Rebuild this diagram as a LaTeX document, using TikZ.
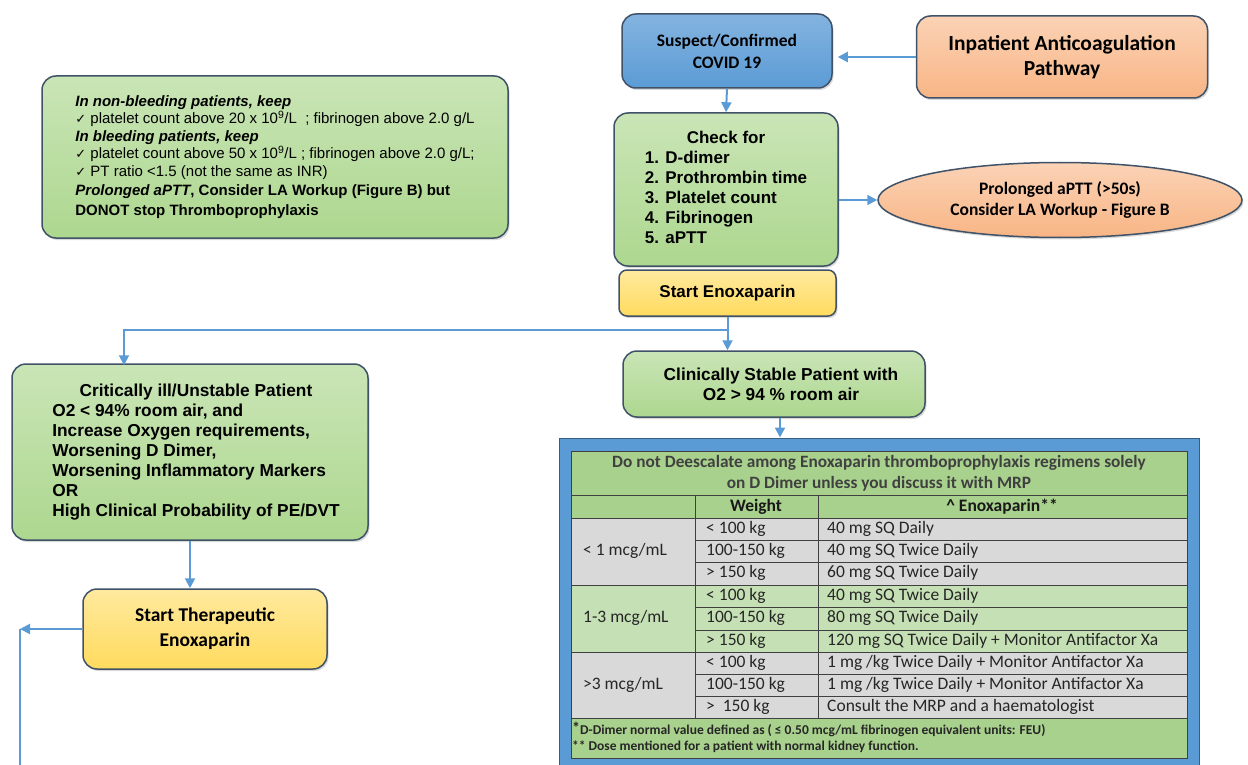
\documentclass[tikz,border=0pt]{standalone}
\usepackage{fontspec}
\setmainfont{Liberation Sans}
\newfontfamily\calibri{Carlito}
\newfontfamily\dejavu{DejaVu Sans}
\usetikzlibrary{arrows.meta,shapes.geometric,shadows}

\definecolor{edgec}{HTML}{3F5268}
\definecolor{grn}{HTML}{ADD78F}
\definecolor{ylw}{HTML}{FFDB5E}
\definecolor{blu}{HTML}{5B9BD5}
\definecolor{org}{HTML}{F8B585}
\definecolor{arr}{HTML}{5B9BD5}
\definecolor{hdr}{HTML}{A9D18E}
\definecolor{lgr}{HTML}{C5E0B4}
\definecolor{gry}{HTML}{D9D9D9}
\definecolor{gridc}{HTML}{404040}

\newcommand\chk{{\dejavu\fontsize{13}{13}\selectfont ✓}}

\tikzset{
   box/.style={draw=edgec, line width=1.5pt, rounded corners=14pt, inner sep=0pt, align=center,
      drop shadow={shadow xshift=1.5pt, shadow yshift=-2pt, opacity=0.3}},
   greenbox/.style={box, top color=grn!65!white, bottom color=grn},
   yellowbox/.style={box, top color=ylw!60!white, bottom color=ylw},
   bluebox/.style={box, top color=blu!75!white, bottom color=blu},
   orangebox/.style={box, top color=org!60!white, bottom color=org},
   flow/.style={draw=arr, line width=2pt, -{Triangle[length=10pt,width=10pt]}},
   plain/.style={draw=arr, line width=2pt},
   gridline/.style={draw=gridc, line width=1pt},
   cell/.style={anchor=west, inner sep=0pt, text=black!85, font=\calibri\fontsize{17.5}{20}\selectfont},
   headcell/.style={inner sep=0pt, align=center, text=black!90, font=\calibri\bfseries\fontsize{17.5}{21}\selectfont},
   foot/.style={anchor=west, inner sep=0pt, text=black!85, font=\calibri\bfseries\fontsize{13.5}{15}\selectfont}
}

\begin{document}
\begin{tikzpicture}[x=1pt, y=-1pt]
   \useasboundingbox (0,0) rectangle (1248,765);

   % flow boxes
   \node[greenbox, minimum width=466, minimum height=162, align=left,
      font=\fontsize{15}{17.5}\selectfont] (note) at (275,157) {%
      \textbf{\textit{In non-bleeding patients, keep}}\\
      \chk\ platelet count above 20 x 10\textsuperscript{9}/L\ \ ; fibrinogen above 2.0 g/L\\
      \textbf{\textit{In bleeding patients, keep}}\\
      \chk\ platelet count above 50 x 10\textsuperscript{9}/L ; fibrinogen above 2.0 g/L;\\
      \chk\ PT ratio <1.5 (not the same as INR)\\[2pt]
      \textbf{\textit{Prolonged aPTT}, Consider LA Workup (Figure B) but}\\[2pt]
      \textbf{DONOT stop Thromboprophylaxis}};
   \node[bluebox, minimum width=210, minimum height=74,
      font=\calibri\bfseries\fontsize{17.5}{22}\selectfont] (susp) at (727,51)
      {Suspect/Confirmed\\COVID 19};
   \node[orangebox, minimum width=291, minimum height=82,
      font=\calibri\bfseries\fontsize{21.5}{25}\selectfont] (path) at (1062,57)
      {Inpatient Anticoagulation\\Pathway};
   \node[greenbox, minimum width=224, minimum height=153,
      font=\bfseries\fontsize{17}{20}\selectfont] (check) at (726,189.5) {%
      \begin{tabular}{@{}l@{}}
         \multicolumn{1}{@{}c@{}}{Check for}\\
         1. D-dimer\\
         2. Prothrombin time\\
         3. Platelet count\\
         4. Fibrinogen\\
         5. aPTT
      \end{tabular}};
   \node[ellipse, draw=edgec, line width=1.5pt, top color=org!60!white, bottom color=org,
      drop shadow={shadow xshift=1.5pt, shadow yshift=-2pt, opacity=0.3},
      minimum width=364, minimum height=75, inner sep=0pt, align=center,
      font=\calibri\bfseries\fontsize{17.5}{21}\selectfont] (la) at (1060,200)
      {Prolonged aPTT (>50s)\\Consider LA Workup - Figure B};
   \node[yellowbox, rounded corners=8pt, minimum width=217, minimum height=46,
      font=\bfseries\fontsize{17}{20}\selectfont] (enox) at (727.5,293) {Start Enoxaparin};
   \node[greenbox, minimum width=356, minimum height=176,
      font=\bfseries\fontsize{17.3}{20}\selectfont] (crit) at (190,452) {%
      \hspace*{12pt}\begin{tabular}{@{}l@{}}
         \multicolumn{1}{@{}c@{}}{Critically ill/Unstable Patient}\\
         O2 < 94\% room air, and\\
         Increase Oxygen requirements,\\
         Worsening D Dimer,\\
         Worsening Inflammatory Markers\\
         OR\\
         High Clinical Probability of PE/DVT
      \end{tabular}};
   \node[yellowbox, minimum width=244, minimum height=80,
      font=\calibri\bfseries\fontsize{19.5}{25}\selectfont] (ther) at (205,629)
      {Start Therapeutic\\Enoxaparin};
   \node[greenbox, minimum width=302, minimum height=66,
      font=\bfseries\fontsize{17.3}{20}\selectfont] (clinic) at (774,384)
      {\hspace*{14pt}Clinically Stable Patient with\\\hspace*{14pt}O2 > 94 \% room air};

   % table
   \node[draw=blu!60!black, line width=1pt, fill=blu, minimum width=640, minimum height=332,
      inner sep=0pt] (frame) at (879,604) {};
   \fill[hdr] (571,451) rectangle (1187,518);
   \fill[gry] (571,518) rectangle (1187,585);
   \fill[lgr] (571,585) rectangle (1187,652);
   \fill[gry] (571,652) rectangle (1187,718);
   \fill[hdr] (571,718) rectangle (1187,758);
   \draw[gridline] (571,451) rectangle (1187,758);
   \foreach \y in {495,518,585,652,718}
      \draw[gridline] (571,\y) -- (1187,\y);
   \foreach \y in {540,562,607,630,674,696}
      \draw[gridline] (695,\y) -- (1187,\y);
   \foreach \x in {695,818}
      \draw[gridline] (\x,495) -- (\x,718);

   \node[headcell, text=black!75, font=\calibri\bfseries\fontsize{17.3}{21}\selectfont] (head) at (879,473)
      {Do not Deescalate among Enoxaparin thromboprophylaxis regimens solely\\on D Dimer unless you discuss it with MRP};
   \node[headcell] (wt) at (756,507) {Weight};
   \node[headcell] (enx) at (1002,507) {\textasciicircum\ Enoxaparin**};
   \node[cell] (g1) at (583,551) {< 1 mcg/mL};
   \node[cell] (g2) at (583,618) {1-3 mcg/mL};
   \node[cell] (g3) at (583,685) {>3 mcg/mL};
   \def \Rows {
      529/{< 100 kg}/{40 mg SQ Daily},
      551/{100-150 kg}/{40 mg SQ Twice Daily},
      573/{> 150 kg}/{60 mg SQ Twice Daily},
      596/{< 100 kg}/{40 mg SQ Twice Daily},
      618/{100-150 kg}/{80 mg SQ Twice Daily},
      641/{> 150 kg}/{120 mg SQ Twice Daily + Monitor Antifactor Xa},
      663/{< 100 kg}/{1 mg /kg Twice Daily + Monitor Antifactor Xa},
      685/{100-150 kg}/{1 mg /kg Twice Daily + Monitor Antifactor Xa},
      707/{>\ \ 150 kg}/{Consult the MRP and a haematologist}}
   \foreach \y / \w / \d [count=\i] in \Rows {
      \node[cell] (w\i) at (706,\y) {\w};
      \node[cell] (d\i) at (827,\y) {\d};
   }
   \node[foot] (fn1) at (572,729)
      {\raisebox{1pt}{\fontsize{16}{16}\selectfont *}D-Dimer normal value defined as ( ≤ 0.50 mcg/mL fibrinogen equivalent units: FEU)};
   \node[foot] (fn2) at (572,747) {** Dose mentioned for a patient with normal kidney function.};

   % connectors
   \coordinate (split) at (727,330);
   \coordinate (corner) at (20,629);
   \coordinate (down) at (20,770);
   \draw[flow, shorten >=5pt] (path.west) -- (path.west -| susp.east);
   \draw[flow] (susp.south) -- (check.north);
   \draw[flow] (check.east |- la.west) -- (la.west);
   \draw[flow] (enox.south) -- (enox.south |- clinic.north);
   \draw[flow] (split) -| ([xshift=-66pt, yshift=-2pt]crit.north);
   \draw[flow] (crit.south) -- (crit.south |- ther.north);
   \draw[flow] ([xshift=6pt]clinic.south) -- ([xshift=6pt]clinic.south |- frame.north);
   \draw[flow] (ther.west) -- (corner);
   \draw[plain] (corner) -- (down);
\end{tikzpicture}
\end{document}
